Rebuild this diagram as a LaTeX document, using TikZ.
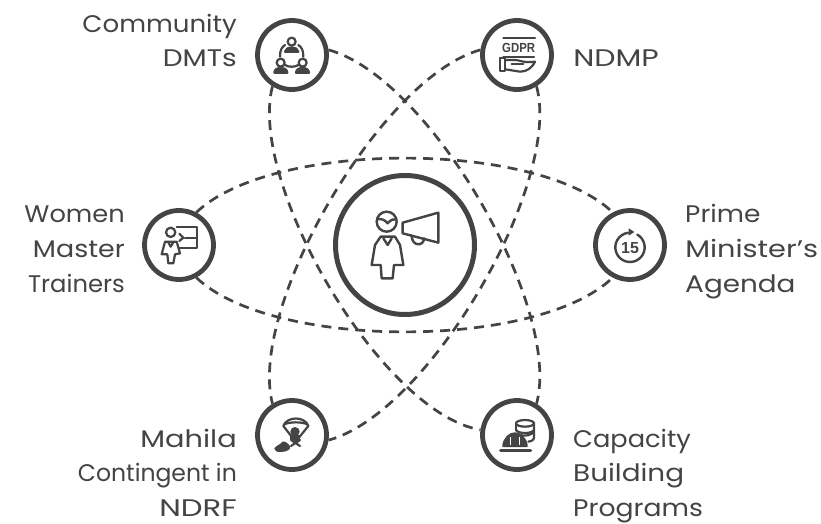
\documentclass[tikz,border=0pt]{standalone}
\usepackage{fontspec}
\setmainfont{Poppins}
\newfontfamily\iconfont{Liberation Sans}
\definecolor{ink}{HTML}{444444}
\tikzset{
  hub/.style={circle,draw=ink,line width=4.8pt,minimum size=69pt,inner sep=0pt,fill=white},
  centerhub/.style={circle,draw=ink,line width=5pt,minimum size=139pt,inner sep=0pt,fill=white},
  orbit/.style={draw=ink,line width=2.7pt,dash pattern=on 10pt off 7pt},
  lab/.style={text=ink,font=\fontsize{24}{24}\selectfont,inner sep=0pt},
  labl/.style={lab,anchor=base west,xscale=#1},
  labr/.style={lab,anchor=base east,xscale=#1},
  ic/.style={draw=ink,line width=2.2pt,line join=round,line cap=round},
  icf/.style={ic,fill=ink},
  zoomed/.style={shift={#1},scale=1/3}
}
\begin{document}
\begin{tikzpicture}[x=1pt,y=-1pt]
\useasboundingbox[fill=white] (0,0) rectangle (821,524);
\node[hub] (cd) at (292,55) {};
\node[hub] (nd) at (517,55) {};
\node[hub] (wm) at (179,245) {};
\node[hub] (pm) at (630,245) {};
\node[hub] (mh) at (292,435) {};
\node[hub] (cb) at (517,435) {};
\node[centerhub] (ce) at (405,245) {};
% orbits
\begin{scope}[shift={(405,245)}]
\draw[orbit] (wm.62) .. controls (-133,-105) and (133,-105) .. (pm.118);
\draw[orbit] (wm.-62) .. controls (-133,105) and (133,105) .. (pm.-118);
\end{scope}
\begin{scope}[shift={(405,245)},rotate=-60]
\draw[orbit] (cd.8) .. controls (-133,-105) and (133,-105) .. (cb.58);
\draw[orbit] (cd.-122) .. controls (-133,105) and (133,105) .. (cb.172);
\end{scope}
\begin{scope}[shift={(405,245)},rotate=60]
\draw[orbit] (nd.172) .. controls (133,-105) and (-133,-105) .. (mh.122);
\draw[orbit] (nd.-58) .. controls (133,105) and (-133,105) .. (mh.-8);
\end{scope}
% centre icon
\begin{scope}[zoomed={(320,170)}]
\draw[ic,line width=2.4pt] (200,155) circle (30);
\draw[ic,line width=2.4pt] (172,148) .. controls (185,145) and (195,150) .. (203,160) .. controls (212,150) and (220,145) .. (229,148);
\draw[ic,line width=2.4pt] (182,200) -- (225,200) -- (240,225) -- (250,285) -- (222,285) -- (218,325) -- (185,325) -- (182,285) -- (155,285) -- (165,225) -- cycle;
\draw[ic,line width=2.4pt] (190,205) -- (203,225) -- (215,205);
\draw[ic,line width=2.4pt] (248,158) -- (355,128) -- (355,218) -- (248,190) -- cycle;
\draw[ic,line width=2.4pt] (275,197) .. controls (275,230) and (312,230) .. (312,205);
\end{scope}
% community icon
\begin{scope}[zoomed={(240,10)}]
\draw[ic] (155,95) circle (12);
\draw[ic] (122,158) circle (12);
\draw[ic] (188,158) circle (12);
\draw[icf] (135,125) .. controls (137,108) and (173,108) .. (175,125) -- cycle;
\draw[icf] (103,188) .. controls (105,168) and (140,168) .. (142,188) -- cycle;
\draw[icf] (168,188) .. controls (170,168) and (205,168) .. (207,188) -- cycle;
\draw[ic] (120,140) .. controls (120,120) and (125,112) .. (135,105);
\draw[ic] (190,140) .. controls (190,120) and (185,112) .. (175,105);
\draw[ic] (135,165) .. controls (145,172) and (165,172) .. (175,165);
\end{scope}
% GDPR icon
\begin{scope}[zoomed={(240,10)}]
\draw[ic] (790,85) -- (885,85);
\node[text=ink,inner sep=0pt,font=\iconfont\bfseries\fontsize{12}{12}\selectfont,xscale=.95,yscale=1.1] at (836,114) {GDPR};
\draw[ic] (790,140) -- (882,140);
\draw[ic] (780,145) -- (796,145) -- (796,182) -- (780,182) -- cycle;
\draw[ic] (796,150) -- (825,150) .. controls (840,150) and (850,160) .. (885,155) .. controls (875,175) and (860,185) .. (840,185) -- (796,178);
\draw[ic] (815,163) -- (850,163);
\end{scope}
% women trainer icon
\begin{scope}[zoomed={(130,195)}]
\draw[ic] (122,112) circle (14);
\draw[ic] (105,140) -- (140,140) -- (150,175) -- (135,178) -- (130,205) -- (115,205) -- (112,178) -- (95,178) -- cycle;
\draw[ic] (115,142) -- (122,155) -- (130,142);
\draw[ic] (140,97) -- (200,97) -- (200,158) -- (147,158);
\draw[ic] (165,128) -- (200,128);
\draw[ic] (148,116) -- (160,128) -- (148,138);
\end{scope}
% prime minister icon
\begin{scope}[zoomed={(580,195)}]
\draw[ic,line width=2.4pt] (150,157) ++(-60:44) arc (-60:262:44);
\fill[ink] (146,100) -- (163,111) -- (146,122) -- cycle;
\node[text=ink,inner sep=0pt,font=\iconfont\bfseries\fontsize{16}{16}\selectfont] at (150,158) {15};
\end{scope}
% Mahila icon
\begin{scope}[zoomed={(245,390)}]
\draw[ic] (115,108) .. controls (125,78) and (180,78) .. (190,108) -- (152,155) -- cycle;
\draw[ic] (118,103) .. controls (135,95) and (170,95) .. (187,103);
\fill[ink] (150,125) circle (14);
\fill[ink] (135,135) rectangle (166,150);
\draw[ic] (138,168) -- (165,150);
\draw[ic] (138,150) -- (165,168);
\fill[ink] (88,175) .. controls (95,165) and (105,165) .. (112,155) .. controls (120,152) and (130,160) .. (136,170) .. controls (136,178) and (130,185) .. (105,186) .. controls (95,186) and (88,182) .. (88,175) -- cycle;
\end{scope}
% capacity icon
\begin{scope}[zoomed={(470,390)}]
\draw[ic] (165,100) ellipse (27 and 10);
\draw[ic] (138,100) -- (138,120);
\draw[ic] (192,100) -- (192,145) .. controls (192,150) and (185,153) .. (175,155);
\draw[ic] (138,120) .. controls (145,132) and (185,132) .. (192,120);
\draw[ic] (150,135) .. controls (165,140) and (185,135) .. (192,125);
\draw[icf] (100,168) .. controls (102,145) and (120,130) .. (135,130) .. controls (150,130) and (168,145) .. (170,168) -- cycle;
\draw[ic,line width=3pt] (92,180) -- (182,180);
\draw[white,line width=1.5pt] (122,165) -- (122,140);
\draw[white,line width=1.5pt] (148,165) -- (148,140);
\end{scope}
% labels
\node[labr=1.085] (t1) at (237,33) {Community};
\node[labr=1.17] (t2) at (237,67) {DMTs};
\node[labl=1.25] (t3) at (573,67) {NDMP};
\node[labr=1.07] (t4) at (125,222) {Women};
\node[labr=1.12] (t5) at (125,257) {Master};
\node[labr=1.01] (t6) at (125,292) {Trainers};
\node[labl=1.1] (t7) at (685,222) {Prime};
\node[labl=1.2] (t8) at (685,257) {Minister's};
\node[labl=1.16] (t9) at (685,292) {Agenda};
\node[labr=1.2] (t10) at (237,447) {Mahila};
\node[labr=.98] (t11) at (237,481) {Contingent in};
\node[labr=1.28] (t12) at (237,516) {NDRF};
\node[labl=1.07] (t13) at (573,447) {Capacity};
\node[labl=1.16] (t14) at (573,481) {Building};
\node[labl=1.11] (t15) at (573,516) {Programs};
\end{tikzpicture}
\end{document}
